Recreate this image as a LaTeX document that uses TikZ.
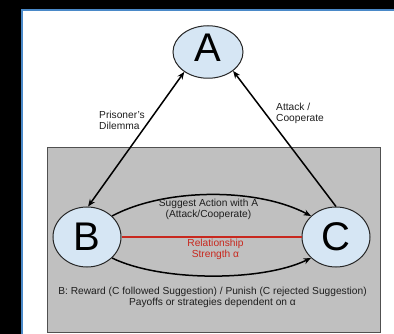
\documentclass[tikz,border=0pt]{standalone}
\usepackage{fontspec}
\setmainfont{Liberation Sans}
\usetikzlibrary{shapes.geometric,arrows.meta}
\definecolor{frameblue}{RGB}{74,137,200}
\definecolor{nodefill}{RGB}{214,230,244}
\definecolor{panelgrey}{RGB}{192,192,192}
\definecolor{paneledge}{RGB}{80,80,80}
\definecolor{relred}{RGB}{200,40,30}
\definecolor{txt}{RGB}{30,30,30}
\tikzset{
  agent/.style={ellipse, draw=black!85, line width=1pt, fill=nodefill, inner sep=0pt,
    font=\fontsize{40}{40}\selectfont},
  lbl/.style={align=center, text=txt, inner sep=0pt, font=\fontsize{10.2}{11}\selectfont},
  lbll/.style={lbl, align=left},
  link/.style={line width=1.5pt, draw=black, -{Stealth[length=7.5pt,width=6pt]}},
  dlink/.style={link, {Stealth[length=7.5pt,width=6pt]}-{Stealth[length=7.5pt,width=6pt]}}
}
\begin{document}
\begin{tikzpicture}[x=1pt,y=-1pt]
\useasboundingbox (0,0) rectangle (394,334);
% page backdrop and framed sheet
\fill[black] (0,0) rectangle (394,334);
\fill[white] (22,10) rectangle (394,334);
\draw[frameblue, line width=2pt] (22,334) -- (22,10) -- (394,10);
% panel holding B and C
\filldraw[fill=panelgrey, draw=paneledge, line width=0.8pt] (47.5,147) rectangle (380,332);
% agents
\node[agent, minimum width=70pt, minimum height=52.5pt, text depth=8pt] (A) at (208,52) {A};
\node[agent, minimum width=68pt, minimum height=60pt] (B) at (87,237) {B};
\node[agent, minimum width=68pt, minimum height=60pt] (C) at (336,237) {C};
% relations
\draw[dlink] (B.88) -- (A.220);
\draw[link] (C.90) -- (A.-37);
\draw[link] (B.40) to[out=28, in=152, looseness=0.78] (C.140);
\draw[link] (B.-40) to[out=-26, in=-154, looseness=0.7] (C.-140);
\draw[relred, line width=1.1pt] (B.east) -- (C.west);
% labels
\node[lbll, anchor=west] (pd) at (99,120) {Prisoner’s\\Dilemma};
\node[lbll, anchor=west] (ac) at (276,113.5) {Attack /\\Cooperate};
\node[lbl] (sg) at (208.5,209) {Suggest Action with A\\(Attack/Cooperate)};
\node[lbl, text=relred] (rs) at (215.5,249) {Relationship\\Strength α};
\node[lbl] (rp) at (212.5,297) {B: Reward (C followed Suggestion) / Punish (C rejected Suggestion)\\Payoffs or strategies dependent on α};
\end{tikzpicture}
\end{document}
